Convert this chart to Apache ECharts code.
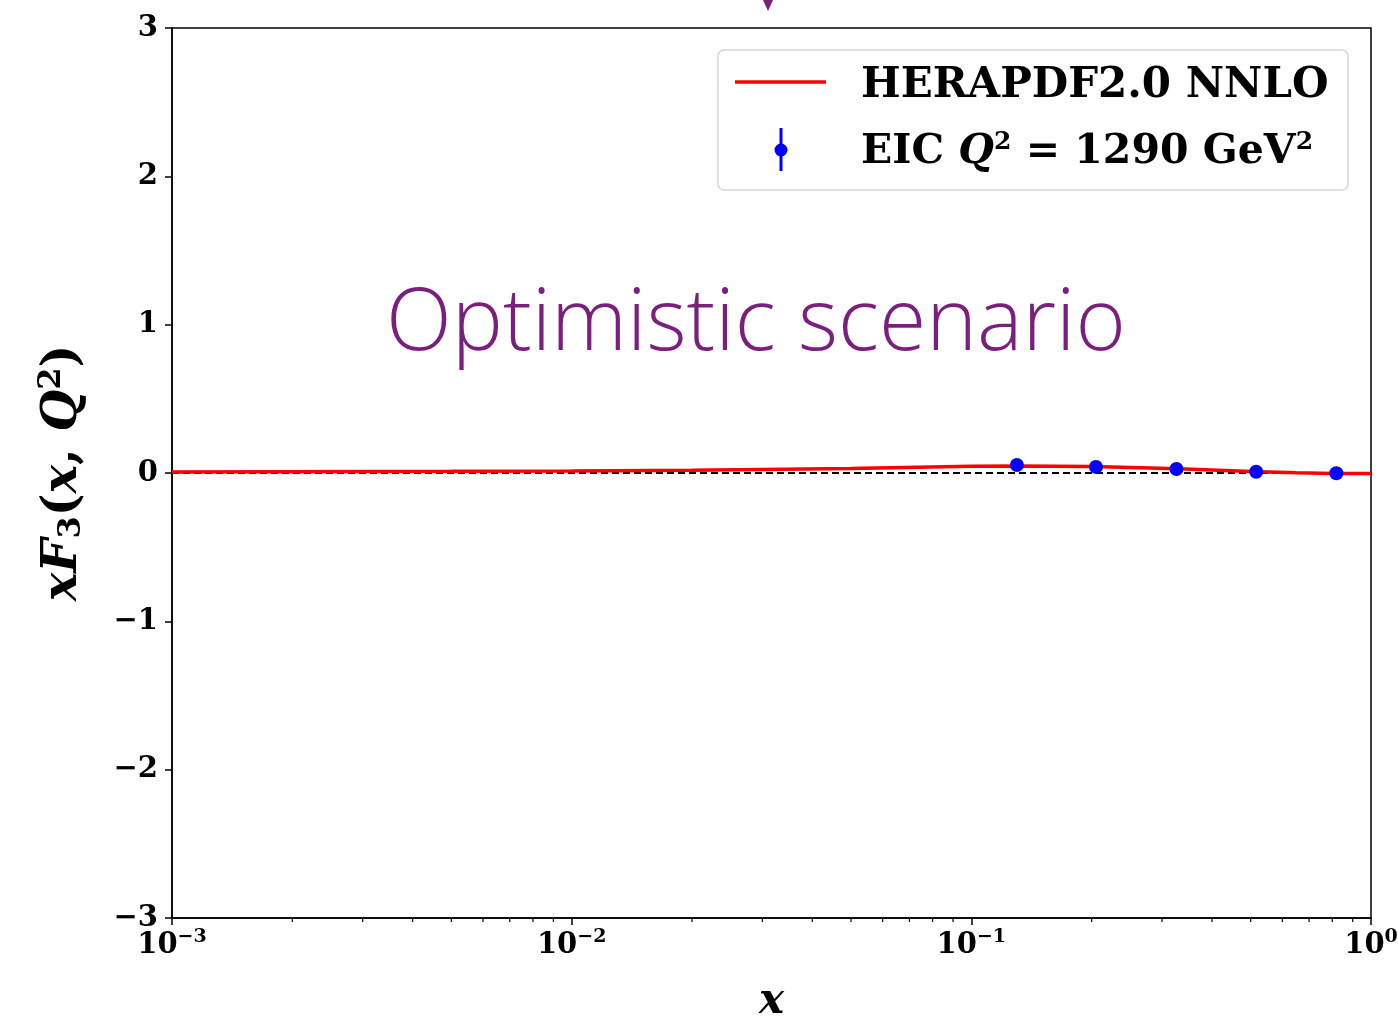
<!DOCTYPE html>
<html>
<head>
<meta charset="utf-8">
<script src="https://cdn.jsdelivr.net/npm/echarts@6/dist/echarts.min.js"></script>
<style>
  html, body { margin: 0; padding: 0; background: #fff; }
  #chart { width: 1398px; height: 1020px; }
</style>
</head>
<body>
<div id="chart"></div>
<script>
// HERAPDF2.0 NNLO curve (x, xF3)
const curveX = [0.001, 0.002, 0.005, 0.01, 0.02, 0.05, 0.1, 0.13, 0.2, 0.33, 0.5, 0.65, 0.8, 1.0];
const curveY = [0.007, 0.009, 0.011, 0.013, 0.018, 0.03, 0.045, 0.048, 0.043, 0.028, 0.01, 0.002, -0.003, -0.003];
// EIC pseudo-data points
const eicX = [0.13, 0.205, 0.326, 0.516, 0.819];
const eicY = [0.054, 0.041, 0.027, 0.008, -0.002];
// y ticks
const yTicks = [-3, -2, -1, 0, 1, 2, 3];
// minor ticks on the log x axis
const minorTicksX = [0.002, 0.003, 0.004, 0.005, 0.006, 0.007, 0.008, 0.009,
  0.02, 0.03, 0.04, 0.05, 0.06, 0.07, 0.08, 0.09,
  0.2, 0.3, 0.4, 0.5, 0.6, 0.7, 0.8, 0.9];

const serif = "DejaVu Serif";
const chart = echarts.init(document.getElementById("chart"));

const sup = { fontFamily: serif, fontWeight: "bold", fontSize: 19, color: "#000", padding: [0, 0, 16, 0] };

const option = {
  animation: false,
  grid: {
    left: 172, right: 27, top: 28, bottom: 102,
    outerBoundsMode: "none",
    containLabel: false,
    show: true, borderColor: "#000", borderWidth: 1.5, backgroundColor: "#fff"
  },
  xAxis: {
    type: "log", min: 0.001, max: 1, logBase: 10,
    axisLine: { onZero: false, lineStyle: { color: "#000", width: 1.5 } },
    axisTick: { show: true, length: 7, lineStyle: { color: "#000", width: 1.5 } },
    splitLine: { show: false },
    axisLabel: {
      margin: 10,
      formatter: (v) => "{b|10}{s|" + Math.round(Math.log10(v)).toString().replace("-", "\u2212") + "}",
      rich: {
        b: { fontFamily: serif, fontWeight: "bold", fontSize: 29, color: "#000" },
        s: sup
      }
    },
    name: "{i|x}",
    nameLocation: "middle",
    nameGap: 63,
    nameTextStyle: { rich: { i: { fontFamily: serif, fontStyle: "italic", fontWeight: "bold", fontSize: 42, color: "#000" } } }
  },
  yAxis: {
    type: "value", min: -3, max: 3, interval: 1,
    axisLine: { onZero: false, lineStyle: { color: "#000", width: 1.5 } },
    axisTick: { show: true, length: 7, lineStyle: { color: "#000", width: 1.5 } },
    splitLine: { show: false },
    axisLabel: {
      margin: 14,
      fontFamily: serif, fontWeight: "bold", fontSize: 29, color: "#000",
      formatter: (v) => yTicks.includes(v) ? String(v).replace("-", "\u2212") : ""
    },
    name: "{i|xF}{s3|3}{n|(}{i|x}{n|, }{i|Q}{s2|2}{n|)}",
    nameLocation: "middle",
    nameRotate: 90,
    nameGap: 80,
    nameTextStyle: {
      rich: {
        i: { fontFamily: serif, fontStyle: "italic", fontWeight: "bold", fontSize: 48, color: "#000" },
        n: { fontFamily: serif, fontWeight: "bold", fontSize: 48, color: "#000" },
        s3: { fontFamily: serif, fontWeight: "bold", fontSize: 32, color: "#000", padding: [16, 0, 0, 0] },
        s2: { fontFamily: serif, fontWeight: "bold", fontSize: 32, color: "#000", padding: [0, 0, 24, 0] }
      }
    }
  },
  series: [
    {
      name: "zero",
      type: "line",
      data: [[0.001, 0], [1, 0]],
      symbol: "none",
      lineStyle: { color: "#000", width: 2, type: [7, 4] },
      z: 2
    },
    {
      name: "HERAPDF2.0 NNLO",
      type: "line",
      data: curveX.map((x, i) => [x, curveY[i]]),
      symbol: "none",
      lineStyle: { color: "#ff0000", width: 3.5 },
      z: 3
    },
    {
      name: "EIC",
      type: "scatter",
      data: eicX.map((x, i) => [x, eicY[i]]),
      symbol: "circle",
      symbolSize: 14,
      itemStyle: { color: "#0000ff", opacity: 1 },
      z: 4
    },
    {
      name: "minor",
      type: "custom",
      clip: false,
      silent: true,
      data: minorTicksX.map((x) => [x, -3]),
      renderItem: (params, api) => {
        const p = api.coord([api.value(0), api.value(1)]);
        return {
          type: "line",
          shape: { x1: p[0], y1: p[1], x2: p[0], y2: p[1] + 4 },
          style: { stroke: "#000", lineWidth: 1.2 }
        };
      }
    }
  ],
  graphic: [
    {
      type: "polygon",
      shape: { points: [[763, 0], [773, 0], [768, 11]] },
      style: { fill: "#7b1f7f" }
    },
    {
      type: "text",
      left: 386, top: 282,
      style: {
        text: "Optimistic scenario",
        font: "300 86px 'Open Sans'",
        fill: "#7b1f7f"
      }
    },
    {
      type: "rect",
      shape: { x: 718, y: 50, width: 630, height: 140, r: 6 },
      style: { fill: "rgba(255,255,255,0.8)", stroke: "#d6d6d6", lineWidth: 1.5 },
      z: 10
    },
    {
      type: "line",
      shape: { x1: 735, y1: 82, x2: 826, y2: 82 },
      style: { stroke: "#ff0000", lineWidth: 3.5 },
      z: 11
    },
    {
      type: "line",
      shape: { x1: 781, y1: 128, x2: 781, y2: 171 },
      style: { stroke: "#0000ff", lineWidth: 3 },
      z: 11
    },
    {
      type: "circle",
      shape: { cx: 781, cy: 150, r: 6.5 },
      style: { fill: "#0000ff" },
      z: 11
    },
    {
      type: "text",
      left: 861, top: 65,
      style: {
        text: "HERAPDF2.0 NNLO",
        font: "bold 42px DejaVu Serif",
        fill: "#000"
      },
      z: 11
    },
    {
      type: "text",
      left: 861, top: 130,
      style: {
        text: "{n|EIC }{i|Q}{s|2}{n| = 1290 GeV}{s|2}",
        rich: {
          n: { font: "bold 41px DejaVu Serif", fill: "#000" },
          i: { font: "italic bold 41px DejaVu Serif", fill: "#000" },
          s: { font: "bold 25px DejaVu Serif", fill: "#000", padding: [0, 0, 19, 0] }
        }
      },
      z: 11
    }
  ]
};

chart.setOption(option);
window.addEventListener("resize", () => chart.resize());
</script>
</body>
</html>
